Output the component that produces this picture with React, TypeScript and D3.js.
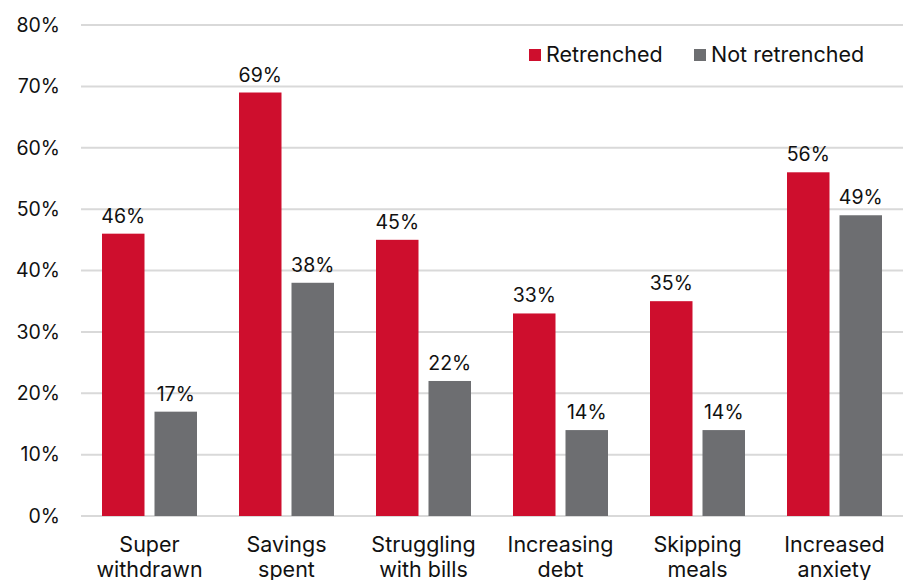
import React from "react";
import * as d3 from "d3";

const categories = [
  ["Super", "withdrawn"],
  ["Savings", "spent"],
  ["Struggling", "with bills"],
  ["Increasing", "debt"],
  ["Skipping", "meals"],
  ["Increased", "anxiety"],
];
const retrenched = [46, 69, 45, 33, 35, 56];
const notRetrenched = [17, 38, 22, 14, 14, 49];
const seriesNames = ["Retrenched", "Not retrenched"];
const yTicks = [0, 10, 20, 30, 40, 50, 60, 70, 80];

const W = 904;
const H = 580;
const RED = "#CE0E2D";
const GREY = "#6D6E71";
const FONT = "Inter, 'Open Sans', sans-serif";

export default function App() {
  const left = 81;
  const right = 903;
  const x0 = d3
    .scaleBand<number>()
    .domain(categories.map((_, i) => i))
    .range([left, right])
    .paddingInner(0)
    .paddingOuter(0);
  const y = d3.scaleLinear().domain([0, 80]).range([516, 25]);
  const bw = 42.5;
  const gap = 10;
  const series = [retrenched, notRetrenched];
  const colors = [RED, GREY];

  return (
    <svg
      width={W}
      height={H}
      style={{ position: "absolute", left: 0, top: 0, fontFamily: FONT }}
    >
      <rect width={W} height={H} fill="#fff" />
      {yTicks.map((t) => (
        <g key={t}>
          <line
            x1={left}
            x2={right}
            y1={y(t)}
            y2={y(t)}
            stroke="#d9d9d9"
            strokeWidth={2}
          />
          <text
            x={60}
            y={y(t)}
            dy="0.35em"
            textAnchor="end"
            fontSize={19.5}
            fill="#111"
          >
            {t}%
          </text>
        </g>
      ))}
      {categories.map((c, i) => {
        const cx = (x0(i) as number) + x0.bandwidth() / 2;
        return (
          <g key={i}>
            {series.map((s, k) => {
              const bx = cx - gap / 2 - bw + k * (bw + gap);
              return (
                <g key={k}>
                  <rect
                    x={bx}
                    y={y(s[i])}
                    width={bw}
                    height={y(0) - y(s[i])}
                    fill={colors[k]}
                  />
                  <text
                    x={bx + bw / 2}
                    y={y(s[i]) - 11}
                    textAnchor="middle"
                    fontSize={19.5}
                    fill="#111"
                  >
                    {s[i]}%
                  </text>
                </g>
              );
            })}
            {c.map((line, j) => (
              <text
                key={j}
                x={cx}
                y={552 + j * 25}
                textAnchor="middle"
                fontSize={21.5}
                fill="#111"
              >
                {line}
              </text>
            ))}
          </g>
        );
      })}
      <g>
        <rect x={529} y={49} width={12} height={12} fill={RED} />
        <text x={546} y={62} fontSize={21.5} fill="#111">
          {seriesNames[0]}
        </text>
        <rect x={694} y={49} width={12} height={12} fill={GREY} />
        <text x={711} y={62} fontSize={21.5} fill="#111">
          {seriesNames[1]}
        </text>
      </g>
    </svg>
  );
}
